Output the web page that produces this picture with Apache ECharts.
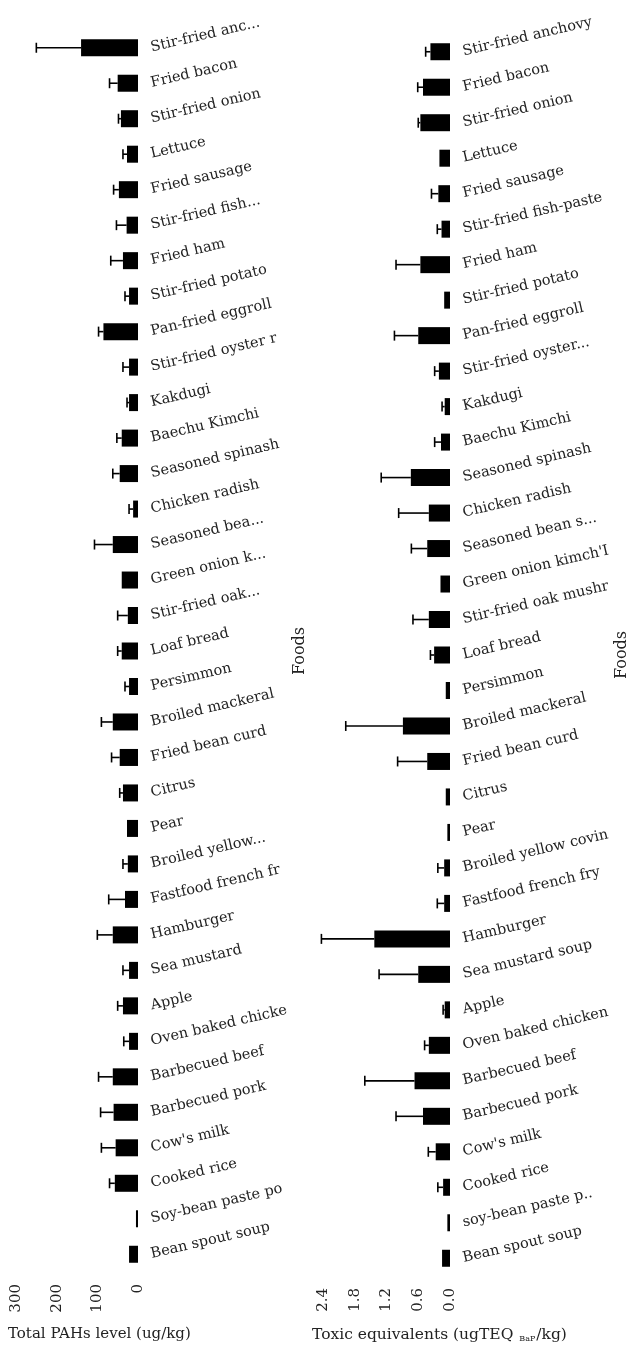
<!DOCTYPE html>
<html>
<head>
<meta charset="utf-8">
<script src="https://cdn.jsdelivr.net/npm/echarts@6/dist/echarts.min.js"></script>
<style>
  html, body { margin: 0; padding: 0; background: #fff; }
  #chart { width: 642px; height: 1353px; }
</style>
</head>
<body>
<div id="chart"></div>
<script>
// left panel: total PAHs (ug/kg)
const pahFoods = ['Stir-fried anc...', 'Fried bacon', 'Stir-fried onion', 'Lettuce', 'Fried sausage',
  'Stir-fried fish...', 'Fried ham', 'Stir-fried potato', 'Pan-fried eggroll', 'Stir-fried oyster r',
  'Kakdugi', 'Baechu Kimchi', 'Seasoned spinash', 'Chicken radish', 'Seasoned bea...',
  'Green onion k...', 'Stir-fried oak...', 'Loaf bread', 'Persimmon', 'Broiled mackeral',
  'Fried bean curd', 'Citrus', 'Pear', 'Broiled yellow...', 'Fastfood french fr',
  'Hamburger', 'Sea mustard', 'Apple', 'Oven baked chicke', 'Barbecued beef',
  'Barbecued pork', "Cow's milk", 'Cooked rice', 'Soy-bean paste po', 'Bean spout soup']
const pahMean = [140, 50, 42, 27, 47, 28, 37, 22, 85, 22, 22, 40, 45, 12, 62, 40, 25, 40, 22, 62,
  45, 37, 27, 25, 32, 62, 22, 37, 22, 62, 60, 55, 57, 5, 22]
const pahSd = [110, 20, 6, 10, 13, 25, 30, 10, 12, 15, 5, 12, 17, 10, 45, 0, 25, 10, 10, 28,
  20, 8, 0, 12, 40, 38, 15, 13, 13, 35, 32, 35, 13, 0, 0]
const pahTicks = [0, 100, 200, 300]

// right panel: toxic equivalents (ugTEQ BaP/kg)
const teqFoods = ['Stir-fried anchovy', 'Fried bacon', 'Stir-fried onion', 'Lettuce', 'Fried sausage',
  'Stir-fried fish-paste', 'Fried ham', 'Stir-fried potato', 'Pan-fried eggroll', 'Stir-fried oyster...',
  'Kakdugi', 'Baechu Kimchi', 'Seasoned spinash', 'Chicken radish', 'Seasoned bean s...',
  "Green onion kimch'I", 'Stir-fried oak mushr', 'Loaf bread', 'Persimmon', 'Broiled mackeral',
  'Fried bean curd', 'Citrus', 'Pear', 'Broiled yellow covin', 'Fastfood french fry',
  'Hamburger', 'Sea mustard soup', 'Apple', 'Oven baked chicken', 'Barbecued beef',
  'Barbecued pork', "Cow's milk", 'Cooked rice', 'soy-bean paste p..', 'Bean spout soup']
const teqMean = [0.37, 0.51, 0.56, 0.20, 0.22, 0.16, 0.56, 0.11, 0.60, 0.21, 0.10, 0.17, 0.74, 0.40,
  0.43, 0.18, 0.40, 0.30, 0.08, 0.89, 0.43, 0.08, 0.05, 0.11, 0.11, 1.43, 0.60, 0.10, 0.40, 0.67,
  0.51, 0.27, 0.13, 0.05, 0.15]
const teqSd = [0.09, 0.10, 0.04, 0, 0.13, 0.08, 0.46, 0, 0.45, 0.08, 0.05, 0.12, 0.56, 0.57, 0.30,
  0, 0.30, 0.07, 0, 1.08, 0.56, 0, 0, 0.12, 0.13, 1.00, 0.74, 0.03, 0.08, 0.94, 0.51, 0.14, 0.10, 0, 0]
const teqTicks = [0, 0.6, 1.2, 1.8, 2.4]

const FONT = 'DejaVu Serif'

function errData(mean, sd) {
  return mean.map((m, i) => [i, m, m + sd[i]]).filter((d, i) => sd[i] > 0)
}

function renderErr(params, api) {
  const lo = api.coord([api.value(1), api.value(0)])
  const hi = api.coord([api.value(2), api.value(0)])
  const st = { stroke: '#000', lineWidth: 1.6 }
  return {
    type: 'group',
    children: [
      { type: 'line', shape: { x1: lo[0], y1: lo[1], x2: hi[0], y2: hi[1] }, style: st },
      { type: 'line', shape: { x1: hi[0], y1: hi[1] - 5, x2: hi[0], y2: hi[1] + 5 }, style: st }
    ]
  }
}

function valueAxis(gridIndex, ticks, fmt) {
  return {
    type: 'value', gridIndex, inverse: true,
    min: ticks[0], max: ticks[ticks.length - 1], interval: ticks[1] - ticks[0],
    axisLine: { show: false }, axisTick: { show: false }, splitLine: { show: false },
    axisLabel: { rotate: 90, margin: 12, fontFamily: FONT, fontSize: 15, color: '#222', formatter: fmt }
  }
}

function catAxis(gridIndex, foods, gap) {
  return {
    type: 'category', gridIndex, inverse: true, position: 'right', data: foods,
    axisLine: { show: false }, axisTick: { show: false },
    axisLabel: { interval: 0, rotate: 13, margin: 13, fontFamily: FONT, fontSize: 14.5, color: '#222' },
    name: 'Foods', nameLocation: 'middle', nameRotate: 90, nameGap: gap,
    nameTextStyle: { fontFamily: FONT, fontSize: 16, color: '#222' }
  }
}

const chart = echarts.init(document.getElementById('chart'))
chart.setOption({
  animation: false,
  backgroundColor: '#fff',
  grid: [
    { left: 16, right: 504, top: 30, bottom: 81 },
    { left: 323, right: 192, top: 34, bottom: 77 }
  ],
  xAxis: [
    valueAxis(0, pahTicks, v => String(v)),
    valueAxis(1, teqTicks, v => v.toFixed(1))
  ],
  yAxis: [
    catAxis(0, pahFoods, 145),
    catAxis(1, teqFoods, 161)
  ],
  series: [
    { type: 'bar', xAxisIndex: 0, yAxisIndex: 0, data: pahMean, barWidth: 17, itemStyle: { color: '#000' } },
    { type: 'custom', xAxisIndex: 0, yAxisIndex: 0, data: errData(pahMean, pahSd),
      encode: { x: [1, 2], y: 0 }, renderItem: renderErr, clip: false, z: 3 },
    { type: 'bar', xAxisIndex: 1, yAxisIndex: 1, data: teqMean, barWidth: 17, itemStyle: { color: '#000' } },
    { type: 'custom', xAxisIndex: 1, yAxisIndex: 1, data: errData(teqMean, teqSd),
      encode: { x: [1, 2], y: 0 }, renderItem: renderErr, clip: false, z: 3 }
  ],
  graphic: [
    { type: 'text', left: 8, top: 1327,
      style: { text: 'Total PAHs level (ug/kg)', font: '15px "DejaVu Serif"', fill: '#222' } },
    { type: 'text', left: 312, top: 1327,
      style: {
        text: '{a|Toxic equivalents (ugTEQ }{s|BaP}{a|/kg)}',
        rich: {
          a: { fontFamily: FONT, fontSize: 15.5, fill: '#222', color: '#222' },
          s: { fontFamily: FONT, fontSize: 8, fill: '#222', color: '#222', padding: [7, 1, 0, 1] }
        }
      } }
  ]
})
</script>
</body>
</html>
